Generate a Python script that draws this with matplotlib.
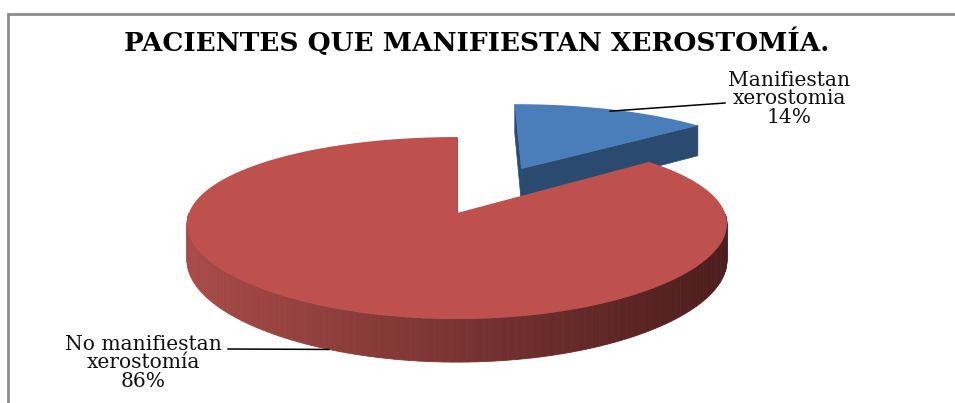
import numpy as np
import matplotlib.pyplot as plt
from matplotlib.colors import to_rgb

# data
labels = ["Manifiestan\nxerostomia", "No manifiestan\nxerostomía"]
values = [14, 86]
top_colors = ["#4A7EBB", "#BE504D"]
side_colors = [("#2B4A6F", "#2B4A6F"), ("#A84B48", "#4C1E1D")]
title = "PACIENTES QUE MANIFIESTAN XEROSTOMÍA."

# layout, in pixels (y grows downwards)
W, H = 955, 403
CX, CY = 457, 213      # projected pie centre
A, B = 268, 88.5       # horizontal / vertical radius
KX, KY = 0.12, 0.165   # perspective strength
DEPTH = 36             # pie thickness
START = 90             # first slice starts at 12 o'clock, going clockwise
EXPLODE = [0.6, 0.0]


def project(u, v, h=0.0):
    return (CX + A * u / (1 + KX * v),
            CY - (B * v - DEPTH * h) / (1 + KY * v))


def shoelace(pts):
    x, y = np.array(pts).T
    return np.sum(x * np.roll(y, -1) - np.roll(x, -1) * y)


def mix(c1, c2, t):
    c1, c2 = np.array(to_rgb(c1)), np.array(to_rgb(c2))
    return tuple(c1 + (c2 - c1) * t)


fig = plt.figure(figsize=(W / 100, H / 100), dpi=100)
ax = fig.add_axes([0, 0, 1, 1])
ax.set_xlim(0, W)
ax.set_ylim(H, 0)
ax.axis("off")

angles = START - np.cumsum([0] + values) / sum(values) * 360
slices = []
for i, val in enumerate(values):
    t0, t1 = angles[i], angles[i + 1]
    mid = np.radians((t0 + t1) / 2)
    ou, ov = EXPLODE[i] * np.cos(mid), EXPLODE[i] * np.sin(mid)
    th = np.radians(np.linspace(t0, t1, 200))
    slices.append((t0, t1, ou, ov, th, mid))

# blue (back) slice first, red on top of it
for i in [0, 1]:
    t0, t1, ou, ov, th, mid = slices[i]
    u, v = ou + np.cos(th), ov + np.sin(th)

    # cut faces
    for ang, sign in [(t0, -1), (t1, 1)]:
        a = np.radians(ang)
        pts = [project(ou, ov), project(ou + np.cos(a), ov + np.sin(a)),
               project(ou + np.cos(a), ov + np.sin(a), 1), project(ou, ov, 1)]
        if shoelace(pts) * sign > 0:
            ax.fill(*zip(*pts), color=side_colors[i][0], lw=0.5, zorder=2 + i * 3)

    # outer wall, front half only, shaded from left to right
    front = np.sin(th) <= 0
    if front.any():
        uf, vf = u[front], v[front]
        xt, yt = project(uf, vf)
        xb, yb = project(uf, vf, 1)
        for j in range(len(uf) - 1):
            t = np.clip((xt[j] - (CX - A)) / (2 * A), 0, 1)
            col = mix(side_colors[i][0], side_colors[i][1], t)
            ax.fill([xt[j], xt[j + 1], xb[j + 1], xb[j]],
                    [yt[j], yt[j + 1], yb[j + 1], yb[j]],
                    color=col, lw=0.6, zorder=3 + i * 3)

    # top face
    xs, ys = project(np.r_[ou, u], np.r_[ov, v])
    ax.fill(xs, ys, color=top_colors[i], lw=0, zorder=4 + i * 3)

# leader lines and labels
bx, by = project(slices[0][2] + 0.97 * np.cos(slices[0][5]),
                 slices[0][3] + 0.97 * np.sin(slices[0][5]))
ax.plot([bx, 725], [by, 103], color="black", lw=1.1, zorder=10)
ax.text(789, 99, f"{labels[0]}\n{values[0]}%", ha="center", va="center",
        family="DejaVu Serif", fontsize=14.6, linespacing=0.95, color="#111111")

rx, ry = project(np.cos(slices[1][5]), np.sin(slices[1][5]), 1)
ax.plot([228, rx], [349, ry], color="black", lw=1.1, zorder=10)
ax.text(143, 363, f"{labels[1]}\n{values[1]}%", ha="center", va="center",
        family="DejaVu Serif", fontsize=14.6, linespacing=0.95, color="#111111")

ax.text(477, 42, title, ha="center", va="center", family="DejaVu Serif",
        fontsize=19, fontweight="bold", color="black")

# chart frame (only left and top edges are visible)
ax.plot([8, 8, W], [H, 14, 14], color="#8C8C8C", lw=2, solid_joinstyle="miter")

fig.savefig("out.png", dpi=100)
